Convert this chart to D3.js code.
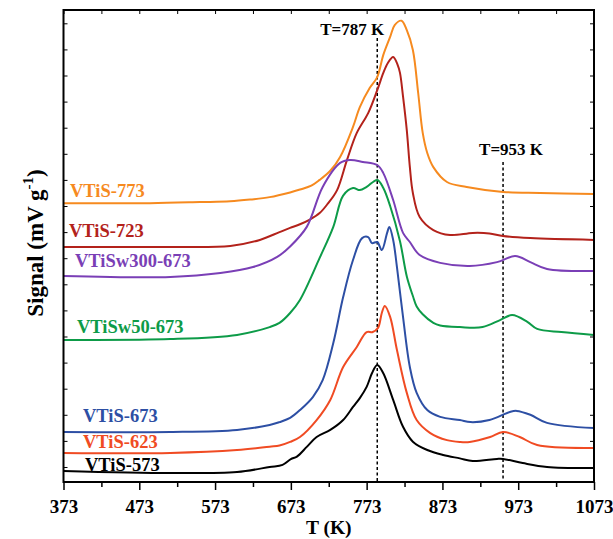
<!DOCTYPE html>
<html>
<head>
<meta charset="utf-8">
<script src="https://cdn.jsdelivr.net/npm/d3@7"></script>
<style>
  body { margin: 0; background: #fff; }
  text { font-family: "Liberation Serif", "Times New Roman", serif; font-weight: bold; }
</style>
</head>
<body>
<div id="chart"></div>
<script>
// TPD-like signal curves (T in K, signal in arbitrary tick units)
const xTicks = [373, 473, 573, 673, 773, 873, 973, 1073];
const xMinorTicks = [423, 523, 623, 723, 823, 923, 1023];
const yTicks = d3.range(0, 18);

const vtis773 = [[373,10.11],[487,10.11],[553,10.15],[593,10.18],[620,10.25],[645,10.34],[672,10.52],[685,10.63],[700,10.78],[711,11.00],[725,11.35],[738,11.88],[755,13.03],[764,13.79],[777,14.52],[787,14.94],[795,15.79],[804,16.48],[810,16.93],[819,17.10],[826,16.74],[834,15.98],[841,14.33],[847,12.80],[853,12.03],[861,11.49],[879,10.92],[905,10.73],[953,10.54],[1002,10.50],[1073,10.46]];
const vtis723 = [[373,8.43],[514,8.43],[593,8.47],[632,8.70],[658,9.00],[672,9.16],[685,9.30],[698,9.48],[711,9.73],[722,10.10],[734,10.61],[747,11.76],[760,12.80],[775,13.56],[787,14.44],[795,15.10],[801,15.48],[808,15.71],[814,15.40],[817,15.10],[821,14.20],[826,12.90],[830,11.50],[834,10.50],[843,9.58],[861,9.08],[883,8.89],[913,8.97],[935,8.95],[953,8.85],[989,8.77],[1073,8.70]];
const vtisw300 = [[373,7.32],[514,7.28],[580,7.43],[623,7.66],[655,8.05],[672,8.45],[694,9.20],[715,10.73],[738,11.65],[751,11.76],[768,11.69],[787,11.57],[795,11.26],[808,10.23],[821,8.97],[830,8.62],[843,8.12],[870,7.82],[909,7.70],[945,7.85],[969,8.08],[989,7.85],[1011,7.59],[1073,7.51]];
const vtisw50 = [[373,4.87],[514,4.90],[602,5.06],[645,5.36],[658,5.52],[672,5.90],[685,6.40],[711,8.01],[729,9.20],[742,10.40],[755,10.69],[764,10.61],[773,10.73],[787,11.00],[795,10.69],[804,10.00],[817,8.65],[826,7.30],[834,6.55],[839,6.15],[847,5.85],[861,5.52],[870,5.42],[896,5.36],[926,5.36],[949,5.63],[965,5.82],[985,5.56],[998,5.29],[1030,5.17],[1073,5.06]];
const vtis673 = [[373,1.34],[514,1.34],[602,1.42],[645,1.61],[658,1.72],[672,1.88],[685,2.18],[702,2.68],[715,3.33],[729,4.75],[742,6.51],[755,7.93],[767,8.77],[775,8.81],[780,8.58],[787,8.62],[793,8.31],[800,8.97],[803,9.20],[808,8.70],[813,7.66],[821,5.75],[830,3.83],[839,2.84],[853,2.18],[870,1.92],[896,1.80],[910,1.72],[935,1.80],[962,2.11],[971,2.15],[989,2.00],[1011,1.69],[1073,1.49]];
const vtis623 = [[373,0.54],[514,0.54],[602,0.65],[645,0.78],[658,0.82],[672,0.96],[685,1.15],[707,1.80],[725,2.57],[742,3.83],[760,4.60],[773,5.17],[781,5.17],[788,5.33],[793,5.90],[797,6.17],[804,5.75],[813,4.48],[826,2.84],[839,1.80],[857,1.30],[879,1.03],[896,0.96],[909,0.96],[936,1.15],[953,1.34],[975,1.15],[998,0.84],[1073,0.73]];
const vtis573 = [[373,-0.15],[514,-0.23],[602,-0.19],[645,0.00],[662,0.08],[673,0.30],[681,0.40],[694,0.77],[707,1.15],[725,1.42],[742,1.80],[755,2.30],[764,2.64],[773,3.07],[780,3.59],[787,3.91],[795,3.59],[808,2.57],[821,1.54],[834,0.97],[853,0.65],[874,0.46],[896,0.33],[913,0.23],[945,0.31],[953,0.31],[979,0.15],[1011,0.00],[1073,-0.04]];

const seriesNames = ["VTiS-773", "VTiS-723", "VTiSw300-673", "VTiSw50-673", "VTiS-673", "VTiS-623", "VTiS-573"];
const seriesData = [vtis773, vtis723, vtisw300, vtisw50, vtis673, vtis623, vtis573];
const seriesColors = ["#f68a1f", "#b3221b", "#7a3fb6", "#0d9b48", "#2d4fa4", "#f04b23", "#000000"];

const markerTemps = [787, 953];
const markerLabels = ["T=787 K", "T=953 K"];

// layout
const width = 613;
const height = 539;
const margin = { top: 10, right: 19, bottom: 57, left: 63.5 };

const x = d3.scaleLinear().domain([373, 1073]).range([margin.left, width - margin.right]);
const y = d3.scaleLinear().domain([-0.575, 17.51]).range([height - margin.bottom, margin.top]);

const svg = d3.select("#chart")
    .append("svg")
    .attr("width", width)
    .attr("height", height);

// clip so curves stay in the frame
svg.append("clipPath").attr("id", "plot-clip")
    .append("rect")
    .attr("x", margin.left).attr("y", margin.top)
    .attr("width", width - margin.left - margin.right)
    .attr("height", height - margin.top - margin.bottom);

// dashed marker lines + labels
const markerTop = [38, 162];
const labelShift = [-25, 8];
const labelBase = [35, 155];
markerTemps.forEach((t, i) => {
    svg.append("line")
        .attr("x1", x(t)).attr("x2", x(t))
        .attr("y1", markerTop[i]).attr("y2", y.range()[0])
        .attr("stroke", "#000")
        .attr("stroke-width", 1.5)
        .attr("stroke-dasharray", "3,2.5");
    svg.append("text")
        .attr("x", x(t) + labelShift[i])
        .attr("y", labelBase[i])
        .attr("text-anchor", "middle")
        .attr("font-size", 17)
        .attr("fill", "#000")
        .text(markerLabels[i]);
});

// curves
const line = d3.line()
    .x(d => x(d[0]))
    .y(d => y(d[1]))
    .curve(d3.curveCatmullRom.alpha(0.5));

svg.append("g")
    .attr("clip-path", "url(#plot-clip)")
    .selectAll("path")
    .data(seriesData)
    .enter().append("path")
    .attr("d", line)
    .attr("fill", "none")
    .attr("stroke", (d, i) => seriesColors[i])
    .attr("stroke-width", 2);

// series labels
const labelPos = [[70, 197], [69, 237], [75, 267], [77, 333], [83, 422], [83, 448], [85, 471]];
svg.append("g")
    .selectAll("text")
    .data(seriesNames)
    .enter().append("text")
    .attr("x", (d, i) => labelPos[i][0])
    .attr("y", (d, i) => labelPos[i][1])
    .attr("font-size", 18.5)
    .attr("fill", (d, i) => seriesColors[i])
    .text(d => d);

// axes
const gx = svg.append("g")
    .attr("transform", `translate(0,${y.range()[0]})`)
    .call(d3.axisBottom(x).tickValues(xTicks).tickSize(8).tickPadding(10).tickFormat(d3.format("d")));
gx.select(".domain").remove();
gx.selectAll("text").attr("font-size", 19).attr("font-family", null).attr("fill", "#000");
gx.selectAll("line").attr("stroke-width", 1.5);

const gxMinor = svg.append("g")
    .attr("transform", `translate(0,${y.range()[0]})`)
    .call(d3.axisBottom(x).tickValues(xMinorTicks).tickSize(5).tickFormat(""));
gxMinor.select(".domain").remove();
gxMinor.selectAll("line").attr("stroke-width", 1.5);

const gTop = svg.append("g")
    .attr("transform", `translate(0,${margin.top})`)
    .call(d3.axisTop(x).tickValues(xTicks.concat(xMinorTicks)).tickSize(-4).tickFormat(""));
gTop.select(".domain").remove();

const gLeft = svg.append("g")
    .attr("transform", `translate(${margin.left},0)`)
    .call(d3.axisLeft(y).tickValues(yTicks).tickSize(-4).tickFormat(""));
gLeft.select(".domain").remove();

const gRight = svg.append("g")
    .attr("transform", `translate(${width - margin.right},0)`)
    .call(d3.axisRight(y).tickValues(yTicks).tickSize(-4).tickFormat(""));
gRight.select(".domain").remove();

// frame
svg.append("rect")
    .attr("x", margin.left).attr("y", margin.top)
    .attr("width", width - margin.left - margin.right)
    .attr("height", height - margin.top - margin.bottom)
    .attr("fill", "none")
    .attr("stroke", "#000")
    .attr("stroke-width", 2);

// axis titles
svg.append("text")
    .attr("x", (margin.left + width - margin.right) / 2)
    .attr("y", 534)
    .attr("text-anchor", "middle")
    .attr("font-size", 19.5)
    .text("T (K)");

const yTitle = svg.append("text")
    .attr("transform", "translate(43,243) rotate(-90)")
    .attr("text-anchor", "middle")
    .attr("font-size", 23);
yTitle.append("tspan").text("Signal (mV g");
yTitle.append("tspan").attr("dy", -10).attr("font-size", 15).text("-1");
yTitle.append("tspan").attr("dy", 10).text(")");
</script>
</body>
</html>
